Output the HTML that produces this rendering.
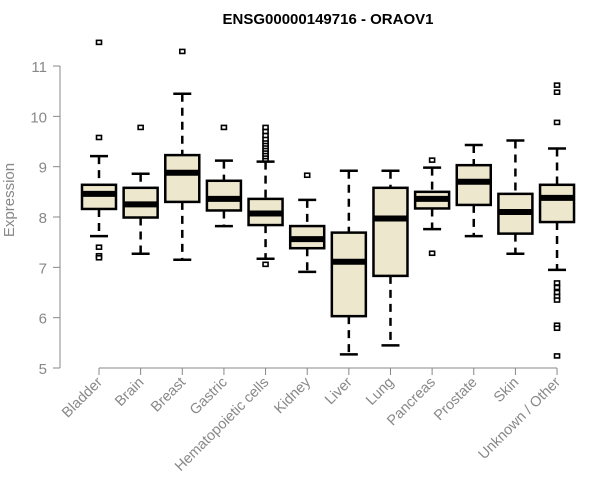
<!DOCTYPE html>
<html><head><meta charset="utf-8"><style>
body{margin:0;background:#fff}
svg{display:block;font-family:"Liberation Sans",Arial,sans-serif}
</style></head><body>
<svg id="chart" width="600" height="500">
<text x="328" y="24" text-anchor="middle" font-weight="bold" font-size="15" fill="#000">ENSG00000149716 - ORAOV1</text>
<text transform="translate(14,200) rotate(-90)" text-anchor="middle" font-size="15" fill="#888">Expression</text>
<g id="axes"></g>
<g id="boxes"></g>
</svg>
<script>
const categories=["Bladder","Brain","Breast","Gastric","Hematopoietic cells","Kidney","Liver","Lung","Pancreas","Prostate","Skin","Unknown / Other"];
const whiskerLow=[7.62,7.27,7.15,7.82,7.17,6.91,5.27,5.45,7.76,7.62,7.27,6.95];
const q1=[8.16,7.99,8.30,8.13,7.84,7.38,6.03,6.83,8.17,8.24,7.67,7.90];
const median=[8.46,8.25,8.88,8.36,8.07,7.56,7.11,7.97,8.36,8.70,8.10,8.38];
const q3=[8.64,8.58,9.23,8.72,8.36,7.82,7.69,8.58,8.50,9.03,8.46,8.64];
const whiskerHigh=[9.21,8.86,10.45,9.12,9.10,8.34,8.92,8.92,8.98,9.43,9.52,9.36];
const outliers=[[11.47,9.58,7.40,7.23,7.19],[9.78],[11.29],[9.78],[7.06,9.15,9.2,9.25,9.3,9.35,9.4,9.45,9.5,9.55,9.62,9.7,9.78],[8.83],[],[],[9.13,7.28],[],[],[10.62,10.48,9.88,6.69,6.6,6.5,6.42,6.35,5.85,5.79,5.24]];
const yTicks=[5,6,7,8,9,10,11];
const NS="http://www.w3.org/2000/svg";
const y=v=>368-(v-5)*50.33;
const x=i=>99+i*41.64;
const bw=34;
function mk(tag,attrs,parent){const e=document.createElementNS(NS,tag);for(const k in attrs)e.setAttribute(k,attrs[k]);parent.appendChild(e);return e;}
const ax=document.getElementById('axes'),bx=document.getElementById('boxes');
let e=mk('line',{x1:60,x2:60,y1:y(11),y2:y(5),stroke:'#888'},ax);


yTicks.forEach(t=>{
 let l=mk('line',{x1:53,x2:60,y1:y(t),y2:y(t),stroke:'#888'},ax);
 
 
 let tx=mk('text',{x:47,y:y(t)+6,'text-anchor':'end','font-size':15,fill:'#888'},ax);tx.textContent=t;
 
 
});
e=mk('line',{x1:x(0),x2:x(categories.length-1),y1:368,y2:368,stroke:'#888'},ax);


categories.forEach((c,i)=>{
 let l=mk('line',{x1:x(i),x2:x(i),y1:368,y2:375,stroke:'#888'},ax);
 
 
 let tx=mk('text',{transform:`translate(${x(i)+4},${383}) rotate(-45)`,'text-anchor':'end','font-size':14.5,fill:'#888'},ax);tx.textContent=c;
 
 
 const g=mk('g',{},bx);
 
 
 const cx=x(i);
 mk('line',{x1:cx,x2:cx,y1:y(whiskerHigh[i]),y2:y(q3[i]),stroke:'#000','stroke-width':2.5,'stroke-dasharray':'8,6'},g);
 mk('line',{x1:cx,x2:cx,y1:y(q1[i]),y2:y(whiskerLow[i]),stroke:'#000','stroke-width':2.5,'stroke-dasharray':'8,6'},g);
 mk('line',{x1:cx-9,x2:cx+9,y1:y(whiskerHigh[i]),y2:y(whiskerHigh[i]),stroke:'#000','stroke-width':2.5},g);
 mk('line',{x1:cx-9,x2:cx+9,y1:y(whiskerLow[i]),y2:y(whiskerLow[i]),stroke:'#000','stroke-width':2.5},g);
 mk('rect',{x:cx-bw/2,y:y(q3[i]),width:bw,height:y(q1[i])-y(q3[i]),fill:'#EDE7CD',stroke:'#000','stroke-width':2.5},g);
 mk('line',{x1:cx-bw/2,x2:cx+bw/2,y1:y(median[i]),y2:y(median[i]),stroke:'#000','stroke-width':6},g);
 outliers[i].forEach(o=>{mk('rect',{x:cx-2.5,y:y(o)-2,width:5,height:4,fill:'#fff',stroke:'#000','stroke-width':1.6},g);});
});
</script>
</body></html>
